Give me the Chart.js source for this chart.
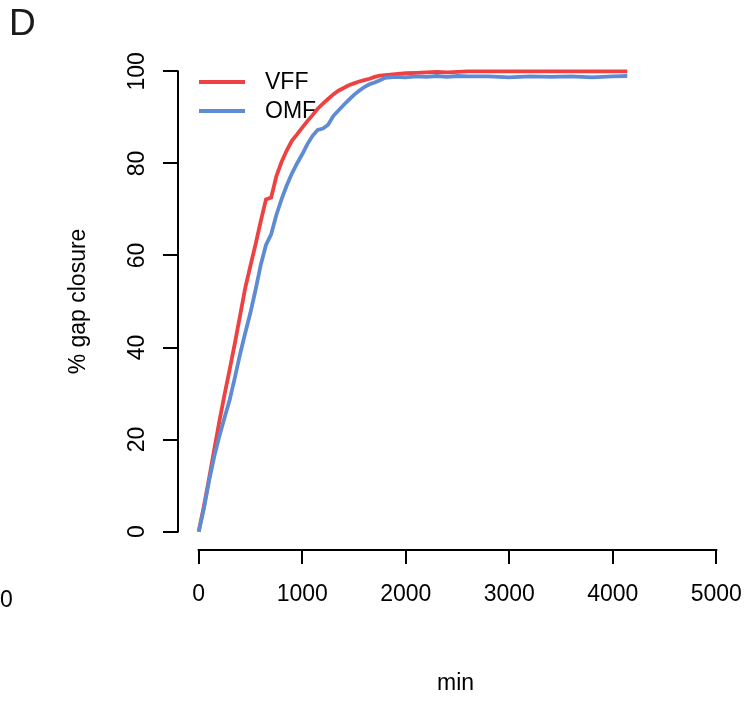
<!DOCTYPE html>
<html>
<head>
<meta charset="utf-8">
<script src="https://cdn.jsdelivr.net/npm/chart.js@4.4.0/dist/chart.umd.min.js"></script>
<style>
  html, body { margin: 0; padding: 0; background: #fff; }
  #wrap { width: 752px; height: 701px; }
</style>
</head>
<body>
<div id="wrap"><canvas id="c" width="752" height="701"></canvas></div>
<script>
// datos (min, % cierre)
const minutes = [0, 50, 100, 150, 200, 250, 300, 350, 400, 450, 500, 550, 600, 650, 700, 750, 800, 850, 900, 950,
  1000, 1050, 1100, 1150, 1200, 1250, 1300, 1350, 1400, 1450, 1500, 1550, 1600, 1650, 1700, 1750, 1800,
  1900, 2000, 2100, 2200, 2300, 2400, 2500, 2600, 2800, 3000, 3200, 3400, 3600, 3800, 4000, 4140];
const vff = [0, 5.5, 11.5, 17.8, 24, 29.8, 35.3, 41, 47, 53, 57.8, 62.5, 67.5, 72.2, 72.6, 77.2, 80.3, 82.8, 84.9, 86.3,
  87.8, 89.2, 90.5, 91.9, 93, 94, 95, 95.8, 96.4, 97, 97.4, 97.8, 98.1, 98.4, 98.8, 99.1, 99.2,
  99.4, 99.6, 99.7, 99.8, 99.9, 99.8, 99.9, 100, 100, 100, 100, 100, 100, 100, 100, 100];
const omf = [0, 5, 11, 16.3, 20.8, 24.8, 28.7, 33.5, 38.6, 43.2, 47.6, 52.6, 58, 62.3, 64.6, 68.8, 72.2, 75.2, 77.8, 80,
  82, 84.2, 86, 87.3, 87.6, 88.4, 90.3, 91.5, 92.7, 93.8, 94.9, 95.8, 96.6, 97.2, 97.6, 98.1, 98.6,
  98.8, 98.7, 98.9, 98.8, 99, 98.8, 99, 98.9, 98.9, 98.7, 98.9, 98.8, 98.9, 98.7, 98.9, 99];
const xTicks = [0, 1000, 2000, 3000, 4000, 5000];
const yTicks = [0, 20, 40, 60, 80, 100];
const names = ['VFF', 'OMF'];
const colors = ['#EE4242', '#5F8BD4'];

const FONT = '"Liberation Sans", Arial, sans-serif';
const FS = 23;

function pts(ys) {
  return minutes.map((m, i) => ({ x: m, y: ys[i] }));
}

// ejes estilo R, etiquetas giradas, leyenda y textos sueltos
const rStyle = {
  id: 'rStyle',
  beforeDatasetsDraw(chart) {
    const ctx = chart.ctx;
    ctx.save();
    ctx.lineWidth = 3.8;
    ctx.font = FS + 'px ' + FONT;
    ctx.fillStyle = '#000';
    ctx.textBaseline = 'middle';
    ctx.textAlign = 'left';
    names.forEach((n, i) => {
      const y = 82 + i * 29;
      ctx.strokeStyle = colors[i];
      ctx.beginPath();
      ctx.moveTo(199, y);
      ctx.lineTo(245, y);
      ctx.stroke();
      ctx.fillText(n, 265, y + 1);
    });
    ctx.restore();
  },
  afterDraw(chart) {
    const ctx = chart.ctx;
    const x = chart.scales.x, y = chart.scales.y, a = chart.chartArea;
    ctx.save();
    ctx.strokeStyle = '#000';
    ctx.lineWidth = 2;
    ctx.beginPath();
    ctx.moveTo(x.getPixelForValue(xTicks[0]) - 1, a.bottom);
    ctx.lineTo(x.getPixelForValue(xTicks[xTicks.length - 1]) + 1, a.bottom);
    ctx.moveTo(a.left, y.getPixelForValue(yTicks[0]) + 1);
    ctx.lineTo(a.left, y.getPixelForValue(yTicks[yTicks.length - 1]) - 1);
    ctx.stroke();

    ctx.fillStyle = '#000';
    ctx.font = FS + 'px ' + FONT;
    ctx.textAlign = 'center';
    ctx.textBaseline = 'alphabetic';
    yTicks.forEach(v => {
      ctx.save();
      ctx.translate(144, y.getPixelForValue(v));
      ctx.rotate(-Math.PI / 2);
      ctx.fillText(String(v), 0, 0);
      ctx.restore();
    });
    ctx.save();
    ctx.translate(85, (a.top + a.bottom) / 2);
    ctx.rotate(-Math.PI / 2);
    ctx.fillText('% gap closure', 0, 0);
    ctx.restore();
    ctx.fillText('min', (a.left + a.right) / 2 - 2, 690);

    ctx.textAlign = 'left';
    ctx.fillText('0', 0, 607);
    ctx.font = '37px ' + FONT;
    ctx.fillStyle = '#1a1a1a';
    ctx.fillText('D', 9, 35);
    ctx.restore();
  }
};

new Chart(document.getElementById('c'), {
  type: 'line',
  data: {
    datasets: [
      { label: names[0], data: pts(vff), borderColor: colors[0], borderWidth: 3.8, pointRadius: 0, tension: 0, order: 1 },
      { label: names[1], data: pts(omf), borderColor: colors[1], borderWidth: 3.8, pointRadius: 0, tension: 0, order: 0 }
    ]
  },
  options: {
    responsive: false,
    animation: false,
    devicePixelRatio: 1,
    layout: { padding: { top: 53, right: 15, left: 0, bottom: 0 } },
    plugins: { legend: { display: false }, tooltip: { enabled: false } },
    scales: {
      x: {
        type: 'linear', min: -200, max: 5200,
        afterBuildTicks: s => { s.ticks = xTicks.map(v => ({ value: v })); },
        afterFit: s => { s.height = 151; s.paddingLeft = 0; s.paddingRight = 0; },
        grid: { display: true, drawOnChartArea: false, drawTicks: true, tickLength: 14, color: '#000', lineWidth: 2 },
        border: { display: false },
        ticks: { color: '#000', font: { family: FONT, size: FS }, padding: 17, maxRotation: 0, autoSkip: false,
          callback: v => String(v) }
      },
      y: {
        type: 'linear', min: -4, max: 104,
        afterBuildTicks: s => { s.ticks = yTicks.map(v => ({ value: v })); },
        afterFit: s => { s.width = 178; s.paddingTop = 0; s.paddingBottom = 0; },
        grid: { display: true, drawOnChartArea: false, drawTicks: true, tickLength: 15, color: '#000', lineWidth: 2 },
        border: { display: false },
        ticks: { display: false }
      }
    }
  },
  plugins: [rStyle]
});
</script>
</body>
</html>
